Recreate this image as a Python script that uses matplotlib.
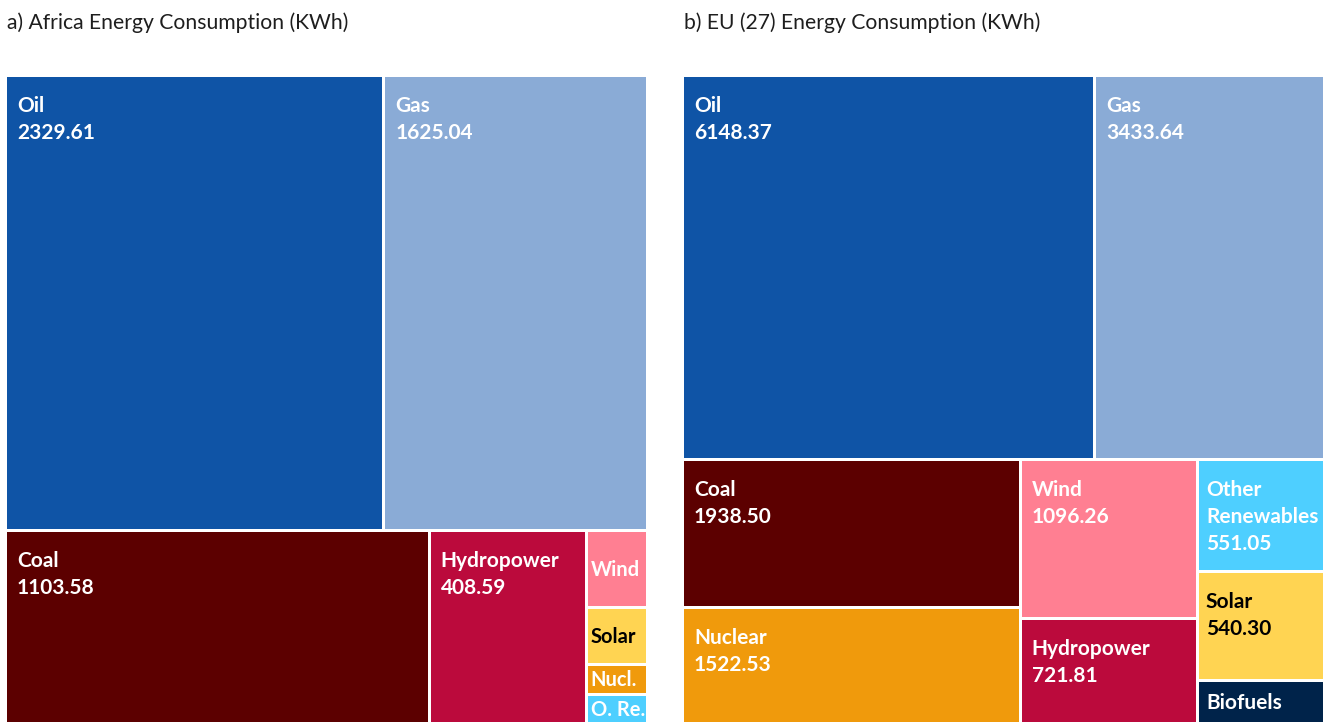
import matplotlib
matplotlib.use('Agg')
from matplotlib import pyplot as plt
from matplotlib.patches import Rectangle

# data
africa_labels = ['Oil', 'Gas', 'Coal', 'Hydropower', 'Wind', 'Solar', 'Nucl.', 'O. Re.']
africa_values = [2329.61, 1625.04, 1103.58, 408.59, 64.0, 46.8, 25.3, 24.0]
africa_colors = ['#0f54a6', '#8aabd6', '#5c0000', '#bb0a3c', '#ff7f92', '#ffd452', '#f09a0c', '#4ecfff']

eu_labels = ['Oil', 'Gas', 'Coal', 'Nuclear', 'Wind', 'Hydropower', 'Other\nRenewables', 'Solar', 'Biofuels']
eu_values = [6148.37, 3433.64, 1938.50, 1522.53, 1096.26, 721.81, 551.05, 540.30, 211.0]
eu_colors = ['#0f54a6', '#8aabd6', '#5c0000', '#f09a0c', '#ff7f92', '#bb0a3c', '#4ecfff', '#ffd452', '#00234a']

titles = ['a) Africa Energy Consumption (KWh)', 'b) EU (27) Energy Consumption (KWh)']

W, H = 1332, 722
fs = 15
gap = 3.
phi = (1+5**0.5)/2.


def squarify(values, x0, y0, x1, y1, ratio=phi):
    # d3 style squarified tiling, y grows downwards
    n = len(values)
    rects = [None]*n
    value = float(sum(values))
    i0 = 0
    while i0 < n:
        dx = x1-x0
        dy = y1-y0
        sumv = values[i0]
        minv = maxv = sumv
        alpha = max(dy/dx, dx/dy)/(value*ratio)
        beta = sumv*sumv*alpha
        minratio = max(maxv/beta, beta/minv)
        i1 = i0+1
        while i1 < n:
            nv = values[i1]
            sumv += nv
            minv = min(minv, nv)
            maxv = max(maxv, nv)
            beta = sumv*sumv*alpha
            newratio = max(maxv/beta, beta/minv)
            if newratio > minratio:
                sumv -= nv
                break
            minratio = newratio
            i1 += 1
        if dx < dy:
            # row across the top, tiles side by side
            ry = y0+dy*sumv/value
            xx = x0
            for k in range(i0, i1):
                w = dx*values[k]/sumv
                rects[k] = (xx, y0, xx+w, ry)
                xx += w
            y0 = ry
        else:
            # column on the left, tiles stacked
            rx = x0+dx*sumv/value
            yy = y0
            for k in range(i0, i1):
                h = dy*values[k]/sumv
                rects[k] = (x0, yy, rx, yy+h)
                yy += h
            x0 = rx
        value -= sumv
        i0 = i1
    return rects


fig = plt.figure('treemaps', figsize=(W/100., H/100.), dpi=100)
ax = fig.add_axes([0, 0, 1, 1])
ax.set_xlim(0, W)
ax.set_ylim(H, 0)
ax.axis('off')

panels = ((africa_labels, africa_values, africa_colors, (5.5, 75.5, 647.5, 723.5)),
          (eu_labels, eu_values, eu_colors, (682.5, 75.5, 1324.5, 723.5)))

for p, (labels, values, colors, box) in enumerate(panels):
    ax.text(box[0]+1.5, 29, titles[p], fontsize=15.2, family='Lato', color='#1e1e1e', va='baseline', ha='left')
    rects = squarify(values, *box)
    for lab, val, col, r in zip(labels, values, colors, rects):
        x0, y0, x1, y1 = r
        ax.add_patch(Rectangle((x0+gap/2, y0+gap/2), x1-x0-gap, y1-y0-gap, facecolor=col, edgecolor='none'))
        w = x1-x0-gap
        h = y1-y0-gap
        tcol = 'black' if col == '#ffd452' else 'white'
        if h >= 80:
            pad = 10 if w > 140 else 7
            lines = lab.split('\n')+['%.2f' % val]
            for k, line in enumerate(lines):
                ax.text(x0+gap/2+pad, y0+gap/2+35+27*k, line, fontsize=fs, family='Lato', weight='bold',
                        color=tcol, va='baseline', ha='left')
        else:
            pad = 7 if w > 100 else 3
            size = fs if w > 100 else 14.5
            ax.text(x0+gap/2+pad, y0+gap/2+h/2+1, lab, fontsize=size, family='Lato', weight='bold',
                    color=tcol, va='center', ha='left')

fig.savefig('out.png', dpi=100)
